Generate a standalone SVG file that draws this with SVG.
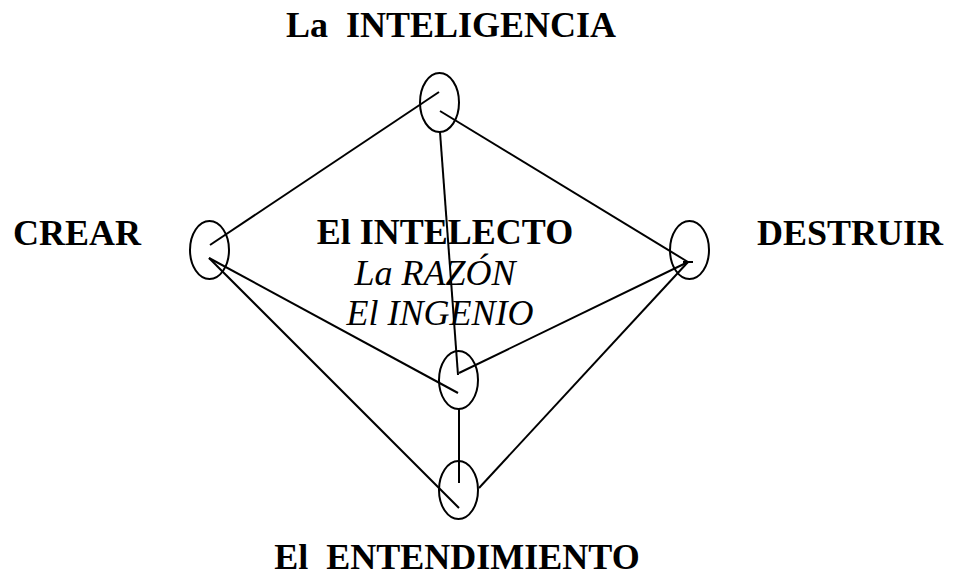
<svg xmlns="http://www.w3.org/2000/svg" width="953" height="577" viewBox="0 0 953 577">
<style>
.n{fill:none;stroke:#000;stroke-width:2}
.c line{stroke:#000;stroke-width:2}
.b{font-family:"Liberation Serif","Times New Roman",serif;font-weight:bold;font-size:36px;fill:#000}
.i{font-family:"Liberation Serif","Times New Roman",serif;font-style:italic;font-size:36px;fill:#000}
</style>
<rect width="953" height="577" fill="#fff"/>
<g id="connectors" class="c">
<line x1="439" y1="92" x2="210" y2="245"/>
<line x1="440" y1="111" x2="688" y2="262"/>
<line x1="440" y1="132" x2="458" y2="375"/>
<line x1="209" y1="258" x2="458" y2="393"/>
<line x1="209" y1="258" x2="459" y2="508"/>
<line x1="688" y1="262" x2="459" y2="373"/>
<line x1="688" y1="262" x2="479" y2="488"/>
<line x1="459" y1="409" x2="459" y2="483"/>
<line x1="683" y1="262" x2="693" y2="262"/>
</g>
<g id="top"><ellipse class="n" cx="439.5" cy="102.5" rx="19.5" ry="29.5"/></g>
<g id="left"><ellipse class="n" cx="209.5" cy="250" rx="19.5" ry="29"/></g>
<g id="right"><ellipse class="n" cx="689.5" cy="250" rx="19.5" ry="29"/></g>
<g id="middle"><ellipse class="n" cx="458.5" cy="380" rx="19.5" ry="29"/></g>
<g id="bottom"><ellipse class="n" cx="458.5" cy="490" rx="19.5" ry="29"/></g>
<g id="labels">
<text class="b" x="451" y="37" text-anchor="middle" xml:space="preserve">La  INTELIGENCIA</text>
<text class="b" x="13" y="245">CREAR</text>
<text class="b" x="757" y="245">DESTRUIR</text>
<text class="b" x="445" y="244" text-anchor="middle">El INTELECTO</text>
<text class="i" x="435" y="285" text-anchor="middle">La RAZÓN</text>
<text class="i" x="440" y="325" text-anchor="middle">El INGENIO</text>
<text class="b" x="457" y="569" text-anchor="middle" xml:space="preserve">El  ENTENDIMIENTO</text>
</g>
</svg>
